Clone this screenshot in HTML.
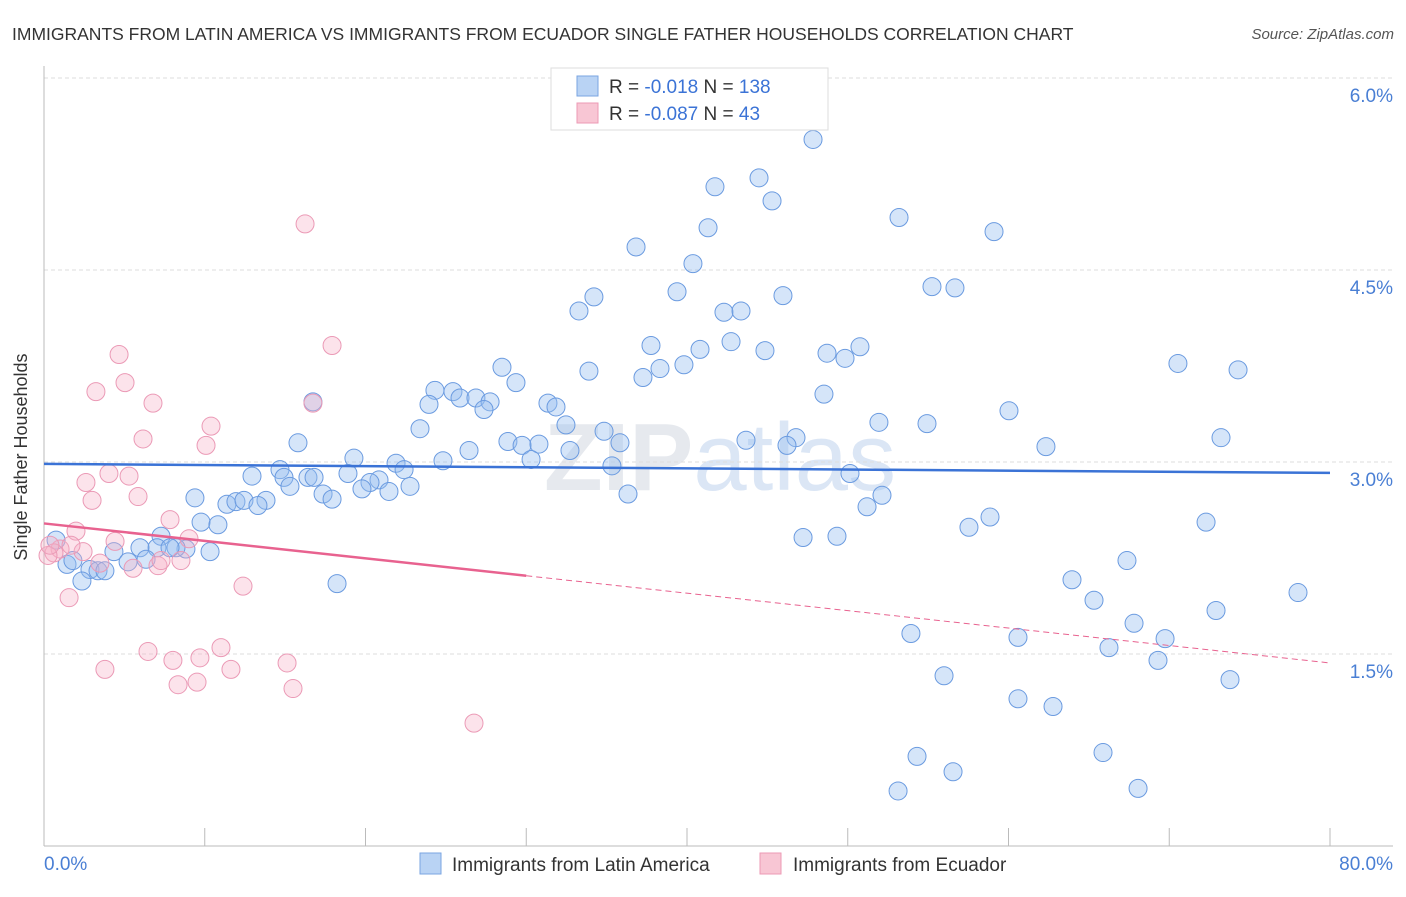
<!DOCTYPE html>
<html><head><meta charset="utf-8"><style>
body{margin:0;background:#fff;font-family:"Liberation Sans",sans-serif;}
svg text{font-family:"Liberation Sans",sans-serif;}
</style></head><body>
<svg id="chart" width="1406" height="892" xmlns="http://www.w3.org/2000/svg">
<text x="12" y="40" font-size="17.5" fill="#333">IMMIGRANTS FROM LATIN AMERICA VS IMMIGRANTS FROM ECUADOR SINGLE FATHER HOUSEHOLDS CORRELATION CHART</text>
<text x="1394" y="39" font-size="15" fill="#555" font-style="italic" text-anchor="end">Source: ZipAtlas.com</text>
<text x="720" y="490" font-size="96" fill="#e6e9ee" text-anchor="middle" font-weight="bold">ZIP<tspan fill="#dbe6f5" font-weight="normal">atlas</tspan></text>
<g id="grid"></g>
<g id="axes"></g>
<g id="pts"></g>
<g id="trend"></g>
<text x="27" y="457" font-size="18" fill="#333" text-anchor="middle" transform="rotate(-90 27 457)">Single Father Households</text>
<g>
<rect x="551" y="68" width="277" height="62" fill="#fff" stroke="#ddd"/>
<rect x="577" y="76" width="21" height="20" fill="#b9d3f4" stroke="#7aa5e2"/>
<text x="609" y="93" font-size="19" fill="#333">R = <tspan fill="#3b73d6">-0.018</tspan>   N = <tspan fill="#3b73d6">138</tspan></text>
<rect x="577" y="103" width="21" height="20" fill="#f8c6d4" stroke="#ec9ab5"/>
<text x="609" y="120" font-size="19" fill="#333">R = <tspan fill="#3b73d6">-0.087</tspan>   N = <tspan fill="#3b73d6"> 43</tspan></text>
</g>
<g>
<rect x="420" y="853" width="21" height="21" fill="#b9d3f4" stroke="#7aa5e2"/>
<text x="452" y="871" font-size="19" fill="#333">Immigrants from Latin America</text>
<rect x="760" y="853" width="21" height="21" fill="#f8c6d4" stroke="#ec9ab5"/>
<text x="793" y="871" font-size="19" fill="#333">Immigrants from Ecuador</text>
</g>
</svg>
<script>
const blueX=[47.84,44.48,41.74,45.29,41.31,53.19,59.10,36.83,40.37,55.24,56.67,39.38,34.21,33.28,45.97,42.30,43.36,37.76,40.81,42.74,44.85,48.71,49.83,50.76,39.81,38.32,37.26,33.90,28.49,29.36,24.32,25.44,23.95,25.88,26.87,27.75,27.37,31.35,31.85,32.47,34.84,23.39,48.52,51.94,54.93,60.03,70.54,74.28,73.22,62.33,43.67,46.78,46.22,15.80,28.86,29.74,30.79,26.44,32.72,35.83,35.33,30.30,24.82,19.28,21.90,22.40,50.14,18.91,20.84,20.28,19.78,22.77,21.46,12.94,14.68,14.93,16.42,15.30,17.36,17.92,16.80,36.33,52.13,51.20,9.39,11.38,11.94,12.44,13.81,13.31,9.77,10.82,58.85,57.54,72.29,47.22,49.33,7.28,8.83,10.33,8.21,7.03,5.97,4.35,5.23,6.35,7.84,1.43,1.80,2.86,3.36,3.79,2.36,18.23,67.37,63.95,65.32,78.01,72.91,67.81,53.93,60.59,69.74,66.25,69.30,55.99,73.78,60.59,62.77,54.31,56.55,65.88,53.13,68.06,0.75,16.73];
const blueY=[5.52,5.22,5.15,5.04,4.83,4.91,4.80,4.68,4.55,4.37,4.36,4.33,4.29,4.18,4.30,4.17,4.18,3.91,3.88,3.94,3.87,3.85,3.81,3.90,3.76,3.73,3.66,3.71,3.74,3.62,3.56,3.55,3.45,3.50,3.50,3.47,3.41,3.46,3.43,3.29,3.24,3.26,3.53,3.31,3.30,3.40,3.77,3.72,3.19,3.12,3.17,3.19,3.13,3.15,3.16,3.13,3.14,3.09,3.09,3.15,2.97,3.02,3.01,3.03,2.99,2.94,2.91,2.91,2.86,2.84,2.79,2.81,2.77,2.89,2.94,2.88,2.88,2.81,2.75,2.71,2.88,2.75,2.74,2.65,2.72,2.67,2.69,2.70,2.70,2.66,2.53,2.51,2.57,2.49,2.53,2.41,2.42,2.42,2.32,2.30,2.33,2.33,2.33,2.30,2.22,2.24,2.33,2.20,2.23,2.16,2.15,2.15,2.07,2.05,2.23,2.08,1.92,1.98,1.84,1.74,1.66,1.63,1.62,1.55,1.45,1.33,1.30,1.15,1.09,0.70,0.58,0.73,0.43,0.45,2.39,3.47];
const pinkX=[16.24,17.92,4.67,3.23,5.04,6.78,16.73,10.39,6.16,10.08,4.04,2.61,5.29,2.99,5.85,7.84,1.99,9.02,4.42,1.00,0.62,0.25,2.43,1.68,3.48,5.54,7.09,7.28,8.52,12.38,1.56,6.47,8.02,9.70,11.01,3.79,11.63,15.12,8.34,9.52,15.49,26.75,0.37];
const pinkY=[4.86,3.91,3.84,3.55,3.62,3.46,3.46,3.28,3.18,3.13,2.91,2.84,2.89,2.70,2.73,2.55,2.46,2.40,2.38,2.32,2.29,2.27,2.30,2.35,2.21,2.17,2.19,2.23,2.23,2.03,1.94,1.52,1.45,1.47,1.55,1.38,1.38,1.43,1.26,1.28,1.23,0.96,2.35];
const yTicks=[1.5,3.0,4.5,6.0];
const yTickLabels=["1.5%","3.0%","4.5%","6.0%"];
const xTicks=[0,10,20,30,40,50,60,70,80];
const blueTrend=[2.985,2.915];
const pinkTrend=[2.52,1.43];
const pinkSolidEnd=30;

const NS="http://www.w3.org/2000/svg";
const X=v=>44+v*16.075, Y=v=>846-v*128;
function mk(tag,attrs,parent){const e=document.createElementNS(NS,tag);for(const k in attrs)e.setAttribute(k,attrs[k]);parent.appendChild(e);return e;}
const grid=document.getElementById('grid'),axes=document.getElementById('axes'),pts=document.getElementById('pts'),trend=document.getElementById('trend');
yTicks.forEach((t,i)=>{
  const l=mk('line',{x1:44,x2:1393,y1:Y(t),y2:Y(t),stroke:'#ddd','stroke-dasharray':'4 3'},grid);
  
  
  const tx=mk('text',{x:1393,y:Y(t)+24,'font-size':19,fill:'#4a7fd4','text-anchor':'end'},grid);
  tx.textContent=yTickLabels[i];
  
  
});
const ya=mk('line',{x1:44,x2:44,y1:66,y2:846,stroke:'#bbb'},axes);


const xa=mk('line',{x1:44,x2:1393,y1:846,y2:846,stroke:'#bbb'},axes);


xTicks.forEach(t=>{
  const l=mk('line',{x1:X(t),x2:X(t),y1:828,y2:846,stroke:'#bbb'},axes);
  
  
});
const xl0=mk('text',{x:44,y:870,'font-size':19,fill:'#4a7fd4'},axes);xl0.textContent='0.0%';


const xl1=mk('text',{x:1393,y:870,'font-size':19,fill:'#4a7fd4','text-anchor':'end'},axes);xl1.textContent='80.0%';


blueX.forEach((v,i)=>{
  const c=mk('circle',{cx:X(v),cy:Y(blueY[i]),r:9,fill:'rgba(150,190,240,0.4)',stroke:'#6b9be0','stroke-width':1},pts);
  
  
});
pinkX.forEach((v,i)=>{
  const c=mk('circle',{cx:X(v),cy:Y(pinkY[i]),r:9,fill:'rgba(245,175,198,0.35)',stroke:'#eb9ab6','stroke-width':1},pts);
  
  
});
const bt=mk('line',{x1:X(0),y1:Y(blueTrend[0]),x2:X(80),y2:Y(blueTrend[1]),stroke:'#3b73d6','stroke-width':2.5},trend);


const pMid=pinkTrend[0]+(pinkTrend[1]-pinkTrend[0])*pinkSolidEnd/80;
const pt=mk('line',{x1:X(0),y1:Y(pinkTrend[0]),x2:X(pinkSolidEnd),y2:Y(pMid),stroke:'#e8628f','stroke-width':2.5},trend);


const pd=mk('line',{x1:X(pinkSolidEnd),y1:Y(pMid),x2:X(80),y2:Y(pinkTrend[1]),stroke:'#e8628f','stroke-width':1,'stroke-dasharray':'6 4'},trend);


</script>
</body></html>
